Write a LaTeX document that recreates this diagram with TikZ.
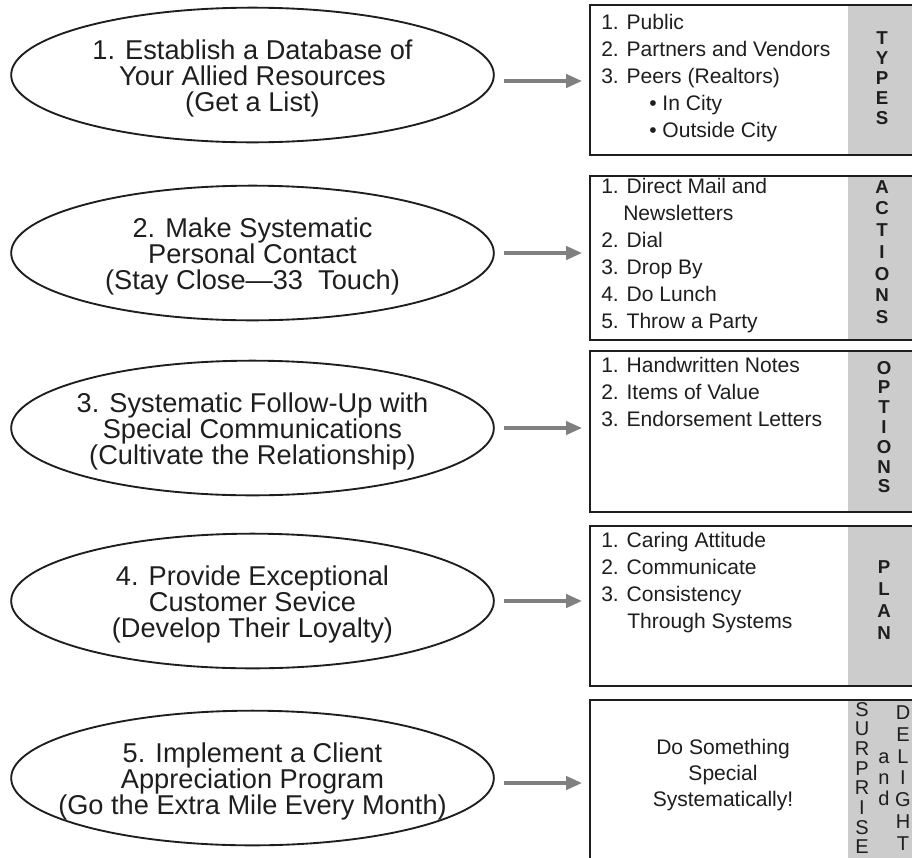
\documentclass[tikz,border=0pt]{standalone}
\usepackage{fontspec}
\setmainfont{Liberation Sans}
\usetikzlibrary{shapes.geometric,arrows.meta,backgrounds}

\definecolor{ink}{HTML}{1E1E1E}
\definecolor{stripgray}{HTML}{CCCCCC}
\definecolor{arrowgray}{HTML}{808080}

% a left-aligned block whose baseline is that of its first line
\newcommand{\listblock}[1]{\begin{tabular}[t]{@{}l@{}}#1\end{tabular}}

\begin{document}
\begin{tikzpicture}[x=0.75pt,y=-0.75pt,
  oval/.style={ellipse, draw=ink, line width=1.4pt, minimum width=362pt,
    minimum height=101pt, inner sep=0pt},
  ovaltext/.style={align=center, font=\fontsize{20.4}{19.5}\selectfont,
    text=ink, inner sep=0pt, yshift=-2.25pt},
  listbox/.style={draw=ink, line width=1.4pt, anchor=north west,
    minimum width=246pt, inner sep=0pt},
  listtext/.style={anchor=base west,
    font=\fontsize{15.8}{20.2}\selectfont, text=ink, inner sep=0pt},
  stack/.style={align=center, text=ink, inner sep=0pt},
  link/.style={draw=arrowgray, line width=2.6pt,
    -{Triangle[length=12pt,width=10pt]},
    shorten <=6.75pt, shorten >=5.25pt},
]
\useasboundingbox (0,0) rectangle (912,857);

% ---- steps (ovals) ----
\node[oval] (e1) at (252.5,75) {};
\node[oval] (e2) at (252.5,253) {};
\node[oval] (e3) at (252.5,428) {};
\node[oval] (e4) at (252.5,601) {};
\node[oval] (e5) at (252.5,778) {};

\node[ovaltext] (t1) at (e1) {1. Establish a Database of\\Your Allied Resources\\(Get a List)};
\node[ovaltext] (t2) at (e2) {2. Make Systematic\\Personal Contact\\(Stay Close—33\ \ Touch)};
\node[ovaltext] (t3) at (e3) {3. Systematic Follow-Up with\\Special Communications\\(Cultivate the Relationship)};
\node[ovaltext] (t4) at (e4) {4. Provide Exceptional\\Customer Sevice\\(Develop Their Loyalty)};
\node[ovaltext] (t5) at (e5) {5. Implement a Client\\Appreciation Program\\(Go the Extra Mile Every Month)};

% ---- list boxes ----
\node[listbox, minimum height=112.5pt] (b1) at (589,4) {};
\node[listbox, minimum height=123pt]   (b2) at (589,175) {};
\node[listbox, minimum height=120.75pt] (b3) at (589,350) {};
\node[listbox, minimum height=120pt]   (b4) at (589,525) {};
\node[listbox, minimum height=122.25pt] (b5) at (589,699) {};

% grey label strips behind the box borders
\begin{pgfonlayer}{background}
  \fill[stripgray] (848,0 |- b1.north) rectangle (b1.south east);
  \fill[stripgray] (848,0 |- b2.north) rectangle (b2.south east);
  \fill[stripgray] (848,0 |- b3.north) rectangle (b3.south east);
  \fill[stripgray] (848,0 |- b4.north) rectangle (b4.south east);
  \fill[stripgray] (848,0 |- b5.north) rectangle (b5.south east);
\end{pgfonlayer}

% ---- box contents ----
\node[listtext] (l1) at (601,29.5) {\listblock{1. Public\\2. Partners and Vendors\\3. Peers (Realtors)\\\hspace*{36pt}\textbullet\ In City\\\hspace*{36pt}\textbullet\ Outside City}};
\node[listtext] (l2) at (601,193.5) {\listblock{1. Direct Mail and\\\hspace*{16.5pt}Newsletters\\2. Dial\\3. Drop By\\4. Do Lunch\\5. Throw a Party}};
\node[listtext] (l3) at (601,372.5) {\listblock{1. Handwritten Notes\\2. Items of Value\\3. Endorsement Letters}};
\node[listtext] (l4) at (601,547.5) {\listblock{1. Caring Attitude\\2. Communicate\\3. Consistency\\\hspace*{19.5pt}Through Systems}};
\node[align=center, text=ink, inner sep=0pt, font=\fontsize{15.8}{19.5}\selectfont] (l5) at (723,775) {Do Something\\Special\\Systematically!};

% ---- vertical labels ----
\node[stack, font=\bfseries\fontsize{14}{15}\selectfont] (s1) at (882,78) {T\\Y\\P\\E\\S};
\node[stack, font=\bfseries\fontsize{14}{16.3}\selectfont] (s2) at (882,252) {A\\C\\T\\I\\O\\N\\S};
\node[stack, font=\bfseries\fontsize{14}{14.85}\selectfont] (s3) at (884,427) {O\\P\\T\\I\\O\\N\\S};
\node[stack, font=\bfseries\fontsize{14}{16.3}\selectfont] (s4) at (884,600) {P\\L\\A\\N};
\node[stack, font=\fontsize{15}{14.7}\selectfont] (s5a) at (862,778) {S\\U\\R\\P\\R\\I\\S\\E};
\node[stack, font=\fontsize{15}{15.75}\selectfont] (s5b) at (884,779) {a\\n\\d};
\node[stack, font=\fontsize{15}{16.3}\selectfont] (s5c) at (903,778) {D\\E\\L\\I\\G\\H\\T};

% ---- connectors ----
\coordinate (a1) at ([yshift=-4.5pt]e1.east);
\coordinate (a5) at ([yshift=-3.75pt]e5.east);
\draw[link] (a1) -- (a1 -| b1.west);
\draw[link] (e2.east) -- (e2.east -| b2.west);
\draw[link] (e3.east) -- (e3.east -| b3.west);
\draw[link] (e4.east) -- (e4.east -| b4.west);
\draw[link] (a5) -- (a5 -| b5.west);
\end{tikzpicture}
\end{document}
